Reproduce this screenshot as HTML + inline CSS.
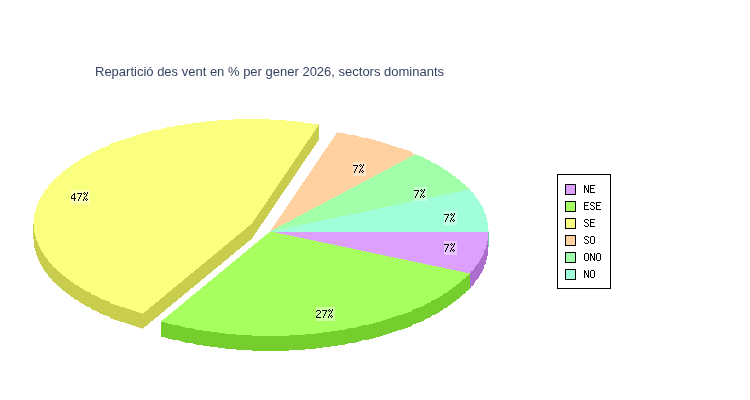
<!DOCTYPE html>
<html><head><meta charset="utf-8"><title>Pie</title>
<style>
html,body{margin:0;padding:0;background:#fff;}
body{width:750px;height:400px;position:relative;overflow:hidden;font-family:"Liberation Sans",sans-serif;}
#t{will-change:transform;transform:translateZ(0);position:absolute;left:95px;top:64px;font-size:13px;line-height:16px;color:#384364;white-space:nowrap;letter-spacing:0px;}
</style></head><body>
<svg width="750" height="400" viewBox="0 0 750 400" shape-rendering="crispEdges" style="position:absolute;left:0;top:0">
<path d="M487 241h1v4h-1zM486 245h2v4h-2zM485 249h3v1h-3zM484 250h4v4h-4zM483 254h5v2h-5zM482 256h5v2h-5zM481 258h6v1h-6zM480 259h7v1h-7zM480 260h6v1h-6zM479 261h7v2h-7zM478 263h8v1h-8zM477 264h8v1h-8zM476 265h8v1h-8zM475 266h9v2h-9zM474 268h10v1h-10zM474 269h9v1h-9zM473 270h10v1h-10zM471 271h11v2h-11zM470 273h11v1h-11zM470 274h10v2h-10zM470 276h9v2h-9zM470 278h8v1h-8zM470 279h7v1h-7zM470 280h6v1h-6zM470 281h5v2h-5zM470 283h4v2h-4zM470 285h3v1h-3zM470 286h1v2h-1z" fill="#ab6ecd"/>
<path d="M469 274h1v1h-1zM468 275h2v1h-2zM466 276h4v2h-4zM465 278h5v1h-5zM463 279h7v1h-7zM462 280h8v1h-8zM461 281h9v1h-9zM460 282h10v1h-10zM459 283h11v1h-11zM457 284h13v1h-13zM456 285h14v1h-14zM455 286h15v1h-15zM453 287h17v1h-17zM452 288h18v1h-18zM451 289h18v1h-18zM449 290h19v1h-19zM448 291h18v1h-18zM447 292h19v1h-19zM444 293h21v1h-21zM443 294h20v1h-20zM442 295h20v1h-20zM440 296h21v1h-21zM439 297h21v1h-21zM437 298h22v1h-22zM435 299h22v1h-22zM432 300h24v1h-24zM431 301h24v1h-24zM430 302h23v1h-23zM427 303h25v1h-25zM425 304h26v1h-26zM424 305h25v1h-25zM422 306h26v1h-26zM419 307h28v1h-28zM416 308h28v1h-28zM413 309h30v1h-30zM412 310h30v1h-30zM411 311h29v1h-29zM408 312h31v1h-31zM405 313h32v1h-32zM402 314h33v1h-33zM398 315h34v1h-34zM395 316h36v1h-36zM392 317h38v1h-38zM389 318h38v1h-38zM386 319h39v1h-39zM383 320h41v1h-41zM380 321h42v1h-42zM161 322h4v1h-4zM376 322h43v1h-43zM373 323h43v1h-43zM161 323h7v1h-7zM369 324h44v1h-44zM161 324h11v1h-11zM362 325h50v1h-50zM161 325h18v1h-18zM359 326h52v1h-52zM161 326h21v1h-21zM161 327h24v1h-24zM356 327h52v1h-52zM161 328h32v1h-32zM348 328h57v1h-57zM345 329h57v1h-57zM161 329h35v1h-35zM161 330h42v1h-42zM338 330h60v1h-60zM161 331h49v1h-49zM331 331h64v1h-64zM323 332h69v1h-69zM161 332h57v1h-57zM161 333h64v1h-64zM316 333h73v1h-73zM161 334h75v1h-75zM305 334h81v1h-81zM289 335h94v1h-94zM161 335h91v1h-91zM161 336h219v1h-219zM165 337h211v1h-211zM168 338h205v1h-205zM172 339h197v1h-197zM179 340h183v1h-183zM182 341h177v1h-177zM185 342h171v1h-171zM193 343h155v1h-155zM196 344h149v1h-149zM203 345h135v1h-135zM210 346h121v1h-121zM218 347h105v1h-105zM225 348h91v1h-91zM236 349h69v1h-69zM252 350h37v1h-37z" fill="#76cd2e"/>
<path d="M318 125h1v2h-1zM317 127h2v1h-2zM316 128h3v2h-3zM315 130h4v1h-4zM314 131h5v2h-5zM313 133h6v1h-6zM312 134h7v2h-7zM311 136h8v1h-8zM310 137h9v2h-9zM309 139h10v1h-10zM308 140h10v1h-10zM307 141h11v1h-11zM307 142h10v1h-10zM306 143h10v1h-10zM305 144h11v1h-11zM305 145h10v1h-10zM304 146h10v1h-10zM303 147h11v1h-11zM303 148h10v1h-10zM302 149h10v1h-10zM301 150h11v1h-11zM301 151h10v1h-10zM300 152h10v1h-10zM299 153h11v1h-11zM299 154h10v1h-10zM298 155h10v1h-10zM297 156h10v2h-10zM296 158h10v1h-10zM295 159h10v2h-10zM294 161h10v1h-10zM293 162h10v2h-10zM292 164h10v1h-10zM291 165h10v2h-10zM290 167h10v1h-10zM289 168h10v2h-10zM288 170h10v1h-10zM287 171h10v2h-10zM286 173h10v1h-10zM285 174h10v1h-10zM284 175h11v1h-11zM284 176h10v1h-10zM283 177h10v1h-10zM282 178h11v1h-11zM282 179h10v1h-10zM281 180h10v1h-10zM280 181h11v1h-11zM280 182h10v1h-10zM279 183h10v1h-10zM278 184h11v1h-11zM278 185h10v1h-10zM277 186h10v1h-10zM276 187h11v1h-11zM276 188h10v1h-10zM275 189h10v1h-10zM274 190h10v2h-10zM273 192h10v1h-10zM272 193h10v2h-10zM271 195h10v1h-10zM270 196h10v2h-10zM269 198h10v1h-10zM268 199h10v2h-10zM267 201h10v1h-10zM266 202h10v2h-10zM265 204h10v1h-10zM264 205h10v2h-10zM263 207h10v1h-10zM262 208h10v1h-10zM261 209h11v1h-11zM261 210h10v1h-10zM260 211h10v1h-10zM259 212h11v1h-11zM259 213h10v1h-10zM258 214h10v1h-10zM257 215h11v1h-11zM257 216h10v1h-10zM256 217h10v1h-10zM255 218h11v1h-11zM255 219h10v1h-10zM254 220h10v1h-10zM253 221h11v1h-11zM253 222h10v1h-10zM252 223h10v1h-10zM251 224h10v1h-10zM250 225h11v1h-11zM248 226h12v1h-12zM247 227h12v1h-12zM246 228h13v1h-13zM245 229h13v1h-13zM244 230h13v1h-13zM242 231h15v1h-15zM33 224h1v9h-1zM241 232h15v1h-15zM240 233h15v1h-15zM239 234h16v1h-16zM33 233h2v3h-2zM237 235h17v1h-17zM236 236h17v1h-17zM235 237h18v1h-18zM33 236h3v3h-3zM234 238h18v1h-18zM233 239h18v1h-18zM34 239h2v1h-2zM231 240h19v1h-19zM34 240h3v2h-3zM230 241h18v1h-18zM229 242h18v1h-18zM228 243h18v1h-18zM34 242h4v3h-4zM227 244h18v1h-18zM225 245h19v1h-19zM34 245h5v2h-5zM224 246h18v1h-18zM34 247h6v1h-6zM223 247h18v1h-18zM222 248h18v1h-18zM35 248h5v1h-5zM221 249h18v1h-18zM35 249h6v2h-6zM219 250h18v1h-18zM36 251h6v1h-6zM218 251h18v1h-18zM217 252h18v1h-18zM36 252h7v2h-7zM216 253h18v1h-18zM214 254h19v1h-19zM36 254h8v1h-8zM37 255h7v1h-7zM213 255h18v1h-18zM37 256h8v1h-8zM212 256h18v1h-18zM38 257h8v1h-8zM211 257h18v1h-18zM38 258h9v1h-9zM210 258h18v1h-18zM38 259h10v1h-10zM208 259h19v1h-19zM207 260h18v1h-18zM39 260h9v1h-9zM206 261h18v1h-18zM39 261h10v1h-10zM205 262h18v1h-18zM40 262h9v1h-9zM204 263h18v1h-18zM40 263h11v1h-11zM202 264h19v1h-19zM41 264h11v2h-11zM201 265h18v1h-18zM200 266h18v1h-18zM42 266h11v1h-11zM43 267h11v1h-11zM199 267h18v1h-18zM198 268h18v1h-18zM43 268h13v1h-13zM196 269h18v1h-18zM44 269h13v2h-13zM195 270h18v1h-18zM194 271h18v1h-18zM45 271h14v1h-14zM193 272h18v1h-18zM46 272h14v1h-14zM191 273h19v1h-19zM47 273h14v1h-14zM48 274h14v1h-14zM190 274h18v1h-18zM189 275h18v1h-18zM48 275h15v1h-15zM49 276h16v1h-16zM188 276h18v1h-18zM187 277h18v1h-18zM49 277h17v1h-17zM185 278h19v1h-19zM51 278h16v1h-16zM52 279h17v1h-17zM184 279h18v1h-18zM52 280h18v1h-18zM183 280h18v1h-18zM182 281h18v1h-18zM53 281h18v1h-18zM54 282h19v1h-19zM181 282h18v1h-18zM179 283h19v1h-19zM56 283h18v1h-18zM178 284h18v1h-18zM57 284h18v1h-18zM57 285h21v1h-21zM177 285h18v1h-18zM176 286h18v1h-18zM59 286h20v1h-20zM60 287h20v1h-20zM174 287h19v1h-19zM173 288h18v1h-18zM61 288h21v1h-21zM62 289h22v1h-22zM172 289h18v1h-18zM63 290h22v1h-22zM171 290h18v1h-18zM65 291h22v1h-22zM170 291h18v1h-18zM66 292h24v1h-24zM168 292h19v1h-19zM167 293h18v1h-18zM67 293h24v1h-24zM69 294h23v1h-23zM166 294h18v1h-18zM165 295h18v1h-18zM70 295h25v1h-25zM71 296h26v1h-26zM164 296h18v1h-18zM73 297h26v1h-26zM162 297h19v1h-19zM74 298h26v1h-26zM161 298h18v1h-18zM160 299h18v1h-18zM75 299h28v1h-28zM78 300h28v1h-28zM159 300h18v1h-18zM79 301h30v1h-30zM158 301h18v1h-18zM156 302h18v1h-18zM80 302h30v1h-30zM155 303h18v1h-18zM82 303h29v1h-29zM84 304h30v1h-30zM154 304h18v1h-18zM153 305h18v1h-18zM85 305h32v1h-32zM87 306h33v1h-33zM151 306h19v1h-19zM90 307h34v1h-34zM150 307h18v1h-18zM149 308h18v1h-18zM91 308h36v1h-36zM148 309h18v1h-18zM92 309h38v1h-38zM147 310h18v1h-18zM95 310h38v1h-38zM145 311h19v1h-19zM97 311h39v1h-39zM99 312h40v1h-40zM144 312h18v1h-18zM143 313h18v1h-18zM100 313h42v1h-42zM103 314h57v1h-57zM106 315h53v1h-53zM109 316h49v1h-49zM110 317h46v1h-46zM111 318h44v1h-44zM114 319h40v1h-40zM117 320h36v1h-36zM120 321h31v1h-31zM124 322h26v1h-26zM127 323h22v1h-22zM130 324h18v1h-18zM133 325h14v1h-14zM136 326h9v1h-9zM139 327h5v1h-5zM142 328h1v1h-1z" fill="#c8cd4e"/>
<path d="M488 232h1v15h-1z" fill="#6ecda6"/>
<path d="M276 232h212v1h-212zM280 233h208v1h-208zM285 234h203v1h-203zM290 235h198v1h-198zM295 236h193v1h-193zM299 237h189v1h-189zM304 238h184v1h-184zM309 239h179v1h-179zM314 240h174v1h-174zM318 241h169v1h-169zM323 242h164v1h-164zM328 243h159v1h-159zM333 244h154v1h-154zM337 245h149v1h-149zM342 246h144v1h-144zM347 247h139v1h-139zM352 248h134v1h-134zM356 249h129v1h-129zM361 250h123v1h-123zM366 251h118v1h-118zM371 252h113v1h-113zM375 253h109v1h-109zM380 254h103v1h-103zM385 255h98v1h-98zM389 256h93v1h-93zM394 257h88v1h-88zM399 258h82v1h-82zM404 259h76v1h-76zM408 260h72v1h-72zM413 261h66v1h-66zM418 262h61v1h-61zM423 263h55v1h-55zM427 264h50v1h-50zM432 265h44v1h-44zM437 266h38v1h-38zM442 267h33v1h-33zM446 268h28v1h-28zM451 269h23v1h-23zM456 270h17v1h-17zM461 271h10v1h-10zM465 272h6v1h-6z" fill="#dda0ff"/>
<path d="M269 232h7v1h-7zM268 233h12v1h-12zM266 234h19v1h-19zM265 235h25v1h-25zM264 236h31v1h-31zM263 237h36v1h-36zM262 238h42v1h-42zM260 239h49v1h-49zM259 240h55v1h-55zM258 241h60v1h-60zM257 242h66v1h-66zM255 243h73v1h-73zM254 244h79v1h-79zM253 245h84v1h-84zM252 246h90v1h-90zM251 247h96v1h-96zM249 248h103v1h-103zM248 249h108v1h-108zM247 250h114v1h-114zM246 251h120v1h-120zM245 252h126v1h-126zM243 253h132v1h-132zM242 254h138v1h-138zM241 255h144v1h-144zM240 256h149v1h-149zM239 257h155v1h-155zM237 258h162v1h-162zM236 259h168v1h-168zM235 260h173v1h-173zM234 261h179v1h-179zM232 262h186v1h-186zM231 263h192v1h-192zM230 264h197v1h-197zM229 265h203v1h-203zM228 266h209v1h-209zM226 267h216v1h-216zM225 268h221v1h-221zM224 269h227v1h-227zM223 270h233v1h-233zM222 271h239v1h-239zM220 272h245v1h-245zM219 273h251v1h-251zM218 274h251v1h-251zM217 275h251v1h-251zM216 276h250v1h-250zM214 277h252v1h-252zM213 278h252v1h-252zM212 279h251v1h-251zM211 280h251v1h-251zM209 281h252v1h-252zM208 282h252v1h-252zM207 283h252v1h-252zM206 284h251v1h-251zM205 285h251v1h-251zM203 286h252v1h-252zM202 287h251v1h-251zM201 288h251v1h-251zM200 289h251v1h-251zM199 290h250v1h-250zM197 291h251v1h-251zM196 292h251v1h-251zM195 293h249v1h-249zM194 294h249v1h-249zM192 295h250v1h-250zM191 296h249v1h-249zM190 297h249v1h-249zM189 298h248v1h-248zM188 299h247v1h-247zM186 300h246v1h-246zM185 301h246v1h-246zM184 302h246v1h-246zM183 303h244v1h-244zM182 304h243v1h-243zM180 305h244v1h-244zM179 306h243v1h-243zM178 307h241v1h-241zM177 308h239v1h-239zM176 309h237v1h-237zM174 310h238v1h-238zM173 311h238v1h-238zM172 312h236v1h-236zM171 313h234v1h-234zM169 314h233v1h-233zM168 315h230v1h-230zM167 316h228v1h-228zM166 317h226v1h-226zM165 318h224v1h-224zM163 319h223v1h-223zM162 320h221v1h-221zM161 321h219v1h-219zM165 322h211v1h-211zM168 323h205v1h-205zM172 324h197v1h-197zM179 325h183v1h-183zM182 326h177v1h-177zM185 327h171v1h-171zM193 328h155v1h-155zM196 329h149v1h-149zM203 330h135v1h-135zM210 331h121v1h-121zM218 332h105v1h-105zM225 333h91v1h-91zM236 334h69v1h-69zM252 335h37v1h-37z" fill="#a8ff60"/>
<path d="M233 119h37v1h-37zM217 120h69v1h-69zM206 121h91v1h-91zM199 122h105v1h-105zM191 123h121v1h-121zM184 124h135v1h-135zM177 125h141v1h-141zM174 126h144v1h-144zM166 127h151v1h-151zM163 128h153v1h-153zM160 129h156v1h-156zM153 130h162v1h-162zM149 131h165v1h-165zM146 132h168v1h-168zM142 133h171v1h-171zM139 134h173v1h-173zM136 135h176v1h-176zM133 136h178v1h-178zM130 137h180v1h-180zM127 138h183v1h-183zM124 139h185v1h-185zM120 140h188v1h-188zM117 141h190v1h-190zM114 142h193v1h-193zM111 143h195v1h-195zM110 144h195v1h-195zM109 145h196v1h-196zM106 146h198v1h-198zM103 147h200v1h-200zM100 148h203v1h-203zM99 149h203v1h-203zM97 150h204v1h-204zM95 151h206v1h-206zM92 152h208v1h-208zM91 153h208v1h-208zM90 154h209v1h-209zM87 155h211v1h-211zM85 156h212v1h-212zM84 157h213v1h-213zM82 158h214v1h-214zM80 159h215v1h-215zM79 160h216v1h-216zM78 161h216v1h-216zM75 162h218v1h-218zM74 163h219v1h-219zM73 164h219v1h-219zM71 165h220v1h-220zM70 166h221v1h-221zM69 167h221v1h-221zM67 168h222v1h-222zM66 169h223v1h-223zM65 170h223v1h-223zM63 171h224v1h-224zM62 172h225v1h-225zM61 173h225v1h-225zM60 174h225v1h-225zM59 175h225v1h-225zM57 176h227v1h-227zM57 177h226v1h-226zM56 178h226v1h-226zM54 179h228v1h-228zM53 180h228v1h-228zM52 181h228v2h-228zM51 183h228v1h-228zM49 184h229v2h-229zM48 186h229v1h-229zM48 187h228v1h-228zM47 188h229v1h-229zM46 189h229v1h-229zM45 190h229v1h-229zM44 191h230v1h-230zM44 192h229v1h-229zM43 193h229v2h-229zM42 195h229v1h-229zM41 196h229v2h-229zM40 198h229v1h-229zM40 199h228v1h-228zM39 200h229v1h-229zM39 201h228v1h-228zM38 202h228v2h-228zM38 204h227v1h-227zM37 205h227v2h-227zM36 207h227v1h-227zM36 208h226v1h-226zM36 209h225v2h-225zM35 211h225v1h-225zM35 212h224v2h-224zM34 214h224v1h-224zM34 215h223v2h-223zM34 217h222v1h-222zM34 218h221v2h-221zM34 220h220v1h-220zM34 221h219v2h-219zM33 223h219v1h-219zM34 224h217v1h-217zM34 225h216v1h-216zM34 226h214v1h-214zM34 227h213v1h-213zM34 228h212v1h-212zM34 229h211v1h-211zM34 230h210v1h-210zM34 231h208v1h-208zM34 232h207v1h-207zM35 233h205v1h-205zM35 234h204v1h-204zM35 235h202v1h-202zM36 236h200v1h-200zM36 237h199v1h-199zM36 238h198v1h-198zM36 239h197v1h-197zM37 240h194v1h-194zM37 241h193v1h-193zM38 242h191v1h-191zM38 243h190v1h-190zM38 244h189v1h-189zM39 245h186v1h-186zM39 246h185v1h-185zM40 247h183v1h-183zM40 248h182v1h-182zM41 249h180v1h-180zM41 250h178v1h-178zM42 251h176v1h-176zM43 252h174v1h-174zM43 253h173v1h-173zM44 254h170v1h-170zM44 255h169v1h-169zM45 256h167v1h-167zM46 257h165v1h-165zM47 258h163v1h-163zM48 259h160v1h-160zM48 260h159v1h-159zM49 261h157v1h-157zM49 262h156v1h-156zM51 263h153v1h-153zM52 264h150v1h-150zM52 265h149v1h-149zM53 266h147v1h-147zM54 267h145v1h-145zM56 268h142v1h-142zM57 269h139v1h-139zM57 270h138v1h-138zM59 271h135v1h-135zM60 272h133v1h-133zM61 273h130v1h-130zM62 274h128v1h-128zM63 275h126v1h-126zM65 276h123v1h-123zM66 277h121v1h-121zM67 278h118v1h-118zM69 279h115v1h-115zM70 280h113v1h-113zM71 281h111v1h-111zM73 282h108v1h-108zM74 283h105v1h-105zM75 284h103v1h-103zM78 285h99v1h-99zM79 286h97v1h-97zM80 287h94v1h-94zM82 288h91v1h-91zM84 289h88v1h-88zM85 290h86v1h-86zM87 291h83v1h-83zM90 292h78v1h-78zM91 293h76v1h-76zM92 294h74v1h-74zM95 295h70v1h-70zM97 296h67v1h-67zM99 297h63v1h-63zM100 298h61v1h-61zM103 299h57v1h-57zM106 300h53v1h-53zM109 301h49v1h-49zM110 302h46v1h-46zM111 303h44v1h-44zM114 304h40v1h-40zM117 305h36v1h-36zM120 306h31v1h-31zM124 307h26v1h-26zM127 308h22v1h-22zM130 309h18v1h-18zM133 310h14v1h-14zM136 311h9v1h-9zM139 312h5v1h-5zM142 313h1v1h-1z" fill="#faff80"/>
<path d="M337 132h1v1h-1zM336 133h9v1h-9zM336 134h12v1h-12zM335 135h21v1h-21zM334 136h25v1h-25zM334 137h28v1h-28zM333 138h36v1h-36zM332 139h41v1h-41zM332 140h44v1h-44zM331 141h49v1h-49zM330 142h53v1h-53zM330 143h56v1h-56zM329 144h60v1h-60zM328 145h64v1h-64zM328 146h67v1h-67zM327 147h71v1h-71zM326 148h76v1h-76zM325 149h80v1h-80zM325 150h83v1h-83zM324 151h87v1h-87zM323 152h89v1h-89zM323 153h90v1h-90zM322 154h93v1h-93zM321 155h92v1h-92zM321 156h90v1h-90zM320 157h89v1h-89zM319 158h88v1h-88zM319 159h87v1h-87zM318 160h86v1h-86zM317 161h85v1h-85zM317 162h83v1h-83zM316 163h82v1h-82zM315 164h81v1h-81zM315 165h79v1h-79zM314 166h78v1h-78zM313 167h78v1h-78zM313 168h76v1h-76zM312 169h75v1h-75zM311 170h74v1h-74zM311 171h72v1h-72zM310 172h71v1h-71zM309 173h70v1h-70zM309 174h68v1h-68zM308 175h67v1h-67zM307 176h67v1h-67zM307 177h65v1h-65zM306 178h64v1h-64zM305 179h63v1h-63zM305 180h61v1h-61zM304 181h60v1h-60zM303 182h59v1h-59zM302 183h58v1h-58zM302 184h57v1h-57zM301 185h56v1h-56zM300 186h55v1h-55zM300 187h53v1h-53zM299 188h52v1h-52zM298 189h51v1h-51zM298 190h49v1h-49zM297 191h48v1h-48zM296 192h47v1h-47zM296 193h46v1h-46zM295 194h45v1h-45zM294 195h44v1h-44zM294 196h42v1h-42zM293 197h41v1h-41zM292 198h40v1h-40zM292 199h38v1h-38zM291 200h37v1h-37zM290 201h36v1h-36zM290 202h35v1h-35zM289 203h34v1h-34zM288 204h33v1h-33zM288 205h31v1h-31zM287 206h30v1h-30zM286 207h29v1h-29zM286 208h27v1h-27zM285 209h26v1h-26zM284 210h26v1h-26zM284 211h24v1h-24zM283 212h23v1h-23zM282 213h22v1h-22zM282 214h20v1h-20zM281 215h19v1h-19zM280 216h18v1h-18zM279 217h17v1h-17zM279 218h15v1h-15zM278 219h15v1h-15zM277 220h14v1h-14zM277 221h12v1h-12zM276 222h11v1h-11zM275 223h10v1h-10zM275 224h8v1h-8zM274 225h7v1h-7zM273 226h6v1h-6zM273 227h5v1h-5zM272 228h4v1h-4zM271 229h3v1h-3zM271 230h1v1h-1z" fill="#ffd0a0"/>
<path d="M415 154h1v1h-1zM413 155h6v1h-6zM411 156h11v1h-11zM409 157h15v1h-15zM407 158h18v1h-18zM406 159h21v1h-21zM404 160h26v1h-26zM402 161h29v1h-29zM400 162h32v1h-32zM398 163h37v1h-37zM396 164h41v1h-41zM394 165h45v1h-45zM392 166h48v1h-48zM391 167h51v1h-51zM389 168h54v1h-54zM387 169h57v1h-57zM385 170h62v1h-62zM383 171h65v1h-65zM381 172h68v1h-68zM379 173h72v1h-72zM377 174h75v1h-75zM375 175h78v1h-78zM374 176h81v1h-81zM372 177h84v1h-84zM370 178h87v1h-87zM368 179h91v1h-91zM366 180h94v1h-94zM364 181h97v1h-97zM362 182h100v1h-100zM360 183h103v1h-103zM359 184h106v1h-106zM357 185h109v1h-109zM355 186h111v1h-111zM353 187h115v1h-115zM351 188h118v1h-118zM349 189h120v1h-120zM347 190h117v1h-117zM345 191h115v1h-115zM343 192h112v1h-112zM342 193h108v1h-108zM340 194h105v1h-105zM338 195h103v1h-103zM336 196h100v1h-100zM334 197h97v1h-97zM332 198h94v1h-94zM330 199h92v1h-92zM328 200h89v1h-89zM326 201h86v1h-86zM325 202h82v1h-82zM323 203h80v1h-80zM321 204h77v1h-77zM319 205h74v1h-74zM317 206h71v1h-71zM315 207h69v1h-69zM313 208h66v1h-66zM311 209h63v1h-63zM310 210h60v1h-60zM308 211h57v1h-57zM306 212h54v1h-54zM304 213h51v1h-51zM302 214h49v1h-49zM300 215h46v1h-46zM298 216h43v1h-43zM296 217h40v1h-40zM294 218h38v1h-38zM293 219h34v1h-34zM291 220h31v1h-31zM289 221h28v1h-28zM287 222h26v1h-26zM285 223h23v1h-23zM283 224h20v1h-20zM281 225h17v1h-17zM279 226h15v1h-15zM278 227h11v1h-11zM276 228h8v1h-8zM274 229h5v1h-5zM272 230h3v1h-3z" fill="#a0ffa8"/>
<path d="M469 189h1v1h-1zM464 190h7v1h-7zM460 191h11v1h-11zM455 192h18v1h-18zM450 193h24v1h-24zM445 194h29v1h-29zM441 195h34v1h-34zM436 196h39v1h-39zM431 197h45v1h-45zM426 198h51v1h-51zM422 199h56v1h-56zM417 200h62v1h-62zM412 201h67v1h-67zM407 202h73v1h-73zM403 203h77v1h-77zM398 204h83v1h-83zM393 205h89v1h-89zM388 206h94v1h-94zM384 207h99v1h-99zM379 208h104v1h-104zM374 209h110v1h-110zM370 210h114v1h-114zM365 211h119v1h-119zM360 212h124v1h-124zM355 213h130v1h-130zM351 214h135v1h-135zM346 215h140v1h-140zM341 216h145v1h-145zM336 217h150v1h-150zM332 218h155v1h-155zM327 219h160v1h-160zM322 220h165v1h-165zM317 221h170v1h-170zM313 222h175v1h-175zM308 223h180v1h-180zM303 224h185v1h-185zM298 225h190v1h-190zM294 226h194v1h-194zM289 227h199v1h-199zM284 228h204v1h-204zM279 229h209v1h-209zM275 230h213v1h-213zM270 231h219v1h-219z" fill="#a0ffd8"/>
<rect x="71" y="190" width="19" height="14" fill="#fff" fill-opacity="0.4"/>
<path d="M74 193h1v1h-1zM73 194h2v1h-2zM72 195h1v1h-1zM74 195h1v1h-1zM71 196h1v1h-1zM74 196h1v1h-1zM71 197h1v1h-1zM74 197h1v1h-1zM71 198h5v1h-5zM74 199h1v1h-1zM74 200h1v1h-1zM77 193h5v1h-5zM81 194h1v1h-1zM80 195h1v1h-1zM80 196h1v1h-1zM79 197h1v1h-1zM79 198h1v1h-1zM78 199h1v1h-1zM78 200h1v1h-1zM84 192h1v1h-1zM87 192h1v1h-1zM83 193h1v1h-1zM85 193h1v1h-1zM87 193h1v1h-1zM84 194h1v1h-1zM86 194h1v1h-1zM86 195h1v1h-1zM85 196h1v1h-1zM84 197h1v1h-1zM84 198h1v1h-1zM86 198h1v1h-1zM83 199h1v1h-1zM85 199h1v1h-1zM87 199h1v1h-1zM83 200h1v1h-1zM86 200h1v1h-1z" fill="#000"/>
<rect x="316" y="307" width="19" height="14" fill="#fff" fill-opacity="0.4"/>
<path d="M317 310h3v1h-3zM316 311h1v1h-1zM320 311h1v1h-1zM320 312h1v1h-1zM319 313h1v1h-1zM318 314h1v1h-1zM317 315h1v1h-1zM316 316h1v1h-1zM316 317h5v1h-5zM322 310h5v1h-5zM326 311h1v1h-1zM325 312h1v1h-1zM325 313h1v1h-1zM324 314h1v1h-1zM324 315h1v1h-1zM323 316h1v1h-1zM323 317h1v1h-1zM329 309h1v1h-1zM332 309h1v1h-1zM328 310h1v1h-1zM330 310h1v1h-1zM332 310h1v1h-1zM329 311h1v1h-1zM331 311h1v1h-1zM331 312h1v1h-1zM330 313h1v1h-1zM329 314h1v1h-1zM329 315h1v1h-1zM331 315h1v1h-1zM328 316h1v1h-1zM330 316h1v1h-1zM332 316h1v1h-1zM328 317h1v1h-1zM331 317h1v1h-1z" fill="#000"/>
<rect x="353" y="162" width="13" height="14" fill="#fff" fill-opacity="0.4"/>
<path d="M353 165h5v1h-5zM357 166h1v1h-1zM356 167h1v1h-1zM356 168h1v1h-1zM355 169h1v1h-1zM355 170h1v1h-1zM354 171h1v1h-1zM354 172h1v1h-1zM360 164h1v1h-1zM363 164h1v1h-1zM359 165h1v1h-1zM361 165h1v1h-1zM363 165h1v1h-1zM360 166h1v1h-1zM362 166h1v1h-1zM362 167h1v1h-1zM361 168h1v1h-1zM360 169h1v1h-1zM360 170h1v1h-1zM362 170h1v1h-1zM359 171h1v1h-1zM361 171h1v1h-1zM363 171h1v1h-1zM359 172h1v1h-1zM362 172h1v1h-1z" fill="#000"/>
<rect x="414" y="187" width="13" height="14" fill="#fff" fill-opacity="0.4"/>
<path d="M414 190h5v1h-5zM418 191h1v1h-1zM417 192h1v1h-1zM417 193h1v1h-1zM416 194h1v1h-1zM416 195h1v1h-1zM415 196h1v1h-1zM415 197h1v1h-1zM421 189h1v1h-1zM424 189h1v1h-1zM420 190h1v1h-1zM422 190h1v1h-1zM424 190h1v1h-1zM421 191h1v1h-1zM423 191h1v1h-1zM423 192h1v1h-1zM422 193h1v1h-1zM421 194h1v1h-1zM421 195h1v1h-1zM423 195h1v1h-1zM420 196h1v1h-1zM422 196h1v1h-1zM424 196h1v1h-1zM420 197h1v1h-1zM423 197h1v1h-1z" fill="#000"/>
<rect x="444" y="211" width="13" height="14" fill="#fff" fill-opacity="0.4"/>
<path d="M444 214h5v1h-5zM448 215h1v1h-1zM447 216h1v1h-1zM447 217h1v1h-1zM446 218h1v1h-1zM446 219h1v1h-1zM445 220h1v1h-1zM445 221h1v1h-1zM451 213h1v1h-1zM454 213h1v1h-1zM450 214h1v1h-1zM452 214h1v1h-1zM454 214h1v1h-1zM451 215h1v1h-1zM453 215h1v1h-1zM453 216h1v1h-1zM452 217h1v1h-1zM451 218h1v1h-1zM451 219h1v1h-1zM453 219h1v1h-1zM450 220h1v1h-1zM452 220h1v1h-1zM454 220h1v1h-1zM450 221h1v1h-1zM453 221h1v1h-1z" fill="#000"/>
<rect x="444" y="241" width="13" height="14" fill="#fff" fill-opacity="0.4"/>
<path d="M444 244h5v1h-5zM448 245h1v1h-1zM447 246h1v1h-1zM447 247h1v1h-1zM446 248h1v1h-1zM446 249h1v1h-1zM445 250h1v1h-1zM445 251h1v1h-1zM451 243h1v1h-1zM454 243h1v1h-1zM450 244h1v1h-1zM452 244h1v1h-1zM454 244h1v1h-1zM451 245h1v1h-1zM453 245h1v1h-1zM453 246h1v1h-1zM452 247h1v1h-1zM451 248h1v1h-1zM451 249h1v1h-1zM453 249h1v1h-1zM450 250h1v1h-1zM452 250h1v1h-1zM454 250h1v1h-1zM450 251h1v1h-1zM453 251h1v1h-1z" fill="#000"/>
<rect x="557.5" y="174.5" width="53" height="114" fill="#fff" stroke="#000" stroke-width="1"/>
<rect x="565.5" y="184.5" width="10" height="10" fill="#dda0ff" stroke="#000" stroke-width="1"/>
<path d="M584 185h1v1h-1zM588 185h1v1h-1zM584 186h2v1h-2zM588 186h1v1h-1zM584 187h2v1h-2zM588 187h1v1h-1zM584 188h1v1h-1zM586 188h1v1h-1zM588 188h1v1h-1zM584 189h1v1h-1zM586 189h1v1h-1zM588 189h1v1h-1zM584 190h1v1h-1zM587 190h2v1h-2zM584 191h1v1h-1zM587 191h2v1h-2zM584 192h1v1h-1zM588 192h1v1h-1zM590 185h5v1h-5zM590 186h1v1h-1zM590 187h1v1h-1zM590 188h4v1h-4zM590 189h1v1h-1zM590 190h1v1h-1zM590 191h1v1h-1zM590 192h5v1h-5z" fill="#000"/>
<rect x="565.5" y="201.5" width="10" height="10" fill="#a8ff60" stroke="#000" stroke-width="1"/>
<path d="M584 202h5v1h-5zM584 203h1v1h-1zM584 204h1v1h-1zM584 205h4v1h-4zM584 206h1v1h-1zM584 207h1v1h-1zM584 208h1v1h-1zM584 209h5v1h-5zM591 202h3v1h-3zM590 203h1v1h-1zM594 203h1v1h-1zM590 204h1v1h-1zM591 205h2v1h-2zM593 206h1v1h-1zM594 207h1v1h-1zM590 208h1v1h-1zM594 208h1v1h-1zM591 209h3v1h-3zM596 202h5v1h-5zM596 203h1v1h-1zM596 204h1v1h-1zM596 205h4v1h-4zM596 206h1v1h-1zM596 207h1v1h-1zM596 208h1v1h-1zM596 209h5v1h-5z" fill="#000"/>
<rect x="565.5" y="218.5" width="10" height="10" fill="#faff80" stroke="#000" stroke-width="1"/>
<path d="M585 219h3v1h-3zM584 220h1v1h-1zM588 220h1v1h-1zM584 221h1v1h-1zM585 222h2v1h-2zM587 223h1v1h-1zM588 224h1v1h-1zM584 225h1v1h-1zM588 225h1v1h-1zM585 226h3v1h-3zM590 219h5v1h-5zM590 220h1v1h-1zM590 221h1v1h-1zM590 222h4v1h-4zM590 223h1v1h-1zM590 224h1v1h-1zM590 225h1v1h-1zM590 226h5v1h-5z" fill="#000"/>
<rect x="565.5" y="235.5" width="10" height="10" fill="#ffd0a0" stroke="#000" stroke-width="1"/>
<path d="M585 236h3v1h-3zM584 237h1v1h-1zM588 237h1v1h-1zM584 238h1v1h-1zM585 239h2v1h-2zM587 240h1v1h-1zM588 241h1v1h-1zM584 242h1v1h-1zM588 242h1v1h-1zM585 243h3v1h-3zM591 236h3v1h-3zM590 237h1v1h-1zM594 237h1v1h-1zM590 238h1v1h-1zM594 238h1v1h-1zM590 239h1v1h-1zM594 239h1v1h-1zM590 240h1v1h-1zM594 240h1v1h-1zM590 241h1v1h-1zM594 241h1v1h-1zM590 242h1v1h-1zM594 242h1v1h-1zM591 243h3v1h-3z" fill="#000"/>
<rect x="565.5" y="252.5" width="10" height="10" fill="#a0ffa8" stroke="#000" stroke-width="1"/>
<path d="M585 253h3v1h-3zM584 254h1v1h-1zM588 254h1v1h-1zM584 255h1v1h-1zM588 255h1v1h-1zM584 256h1v1h-1zM588 256h1v1h-1zM584 257h1v1h-1zM588 257h1v1h-1zM584 258h1v1h-1zM588 258h1v1h-1zM584 259h1v1h-1zM588 259h1v1h-1zM585 260h3v1h-3zM590 253h1v1h-1zM594 253h1v1h-1zM590 254h2v1h-2zM594 254h1v1h-1zM590 255h2v1h-2zM594 255h1v1h-1zM590 256h1v1h-1zM592 256h1v1h-1zM594 256h1v1h-1zM590 257h1v1h-1zM592 257h1v1h-1zM594 257h1v1h-1zM590 258h1v1h-1zM593 258h2v1h-2zM590 259h1v1h-1zM593 259h2v1h-2zM590 260h1v1h-1zM594 260h1v1h-1zM597 253h3v1h-3zM596 254h1v1h-1zM600 254h1v1h-1zM596 255h1v1h-1zM600 255h1v1h-1zM596 256h1v1h-1zM600 256h1v1h-1zM596 257h1v1h-1zM600 257h1v1h-1zM596 258h1v1h-1zM600 258h1v1h-1zM596 259h1v1h-1zM600 259h1v1h-1zM597 260h3v1h-3z" fill="#000"/>
<rect x="565.5" y="269.5" width="10" height="10" fill="#a0ffd8" stroke="#000" stroke-width="1"/>
<path d="M584 270h1v1h-1zM588 270h1v1h-1zM584 271h2v1h-2zM588 271h1v1h-1zM584 272h2v1h-2zM588 272h1v1h-1zM584 273h1v1h-1zM586 273h1v1h-1zM588 273h1v1h-1zM584 274h1v1h-1zM586 274h1v1h-1zM588 274h1v1h-1zM584 275h1v1h-1zM587 275h2v1h-2zM584 276h1v1h-1zM587 276h2v1h-2zM584 277h1v1h-1zM588 277h1v1h-1zM591 270h3v1h-3zM590 271h1v1h-1zM594 271h1v1h-1zM590 272h1v1h-1zM594 272h1v1h-1zM590 273h1v1h-1zM594 273h1v1h-1zM590 274h1v1h-1zM594 274h1v1h-1zM590 275h1v1h-1zM594 275h1v1h-1zM590 276h1v1h-1zM594 276h1v1h-1zM591 277h3v1h-3z" fill="#000"/>
</svg>
<div id="t">Repartici&oacute; des vent en % per gener 2026, sectors dominants</div>
</body></html>
